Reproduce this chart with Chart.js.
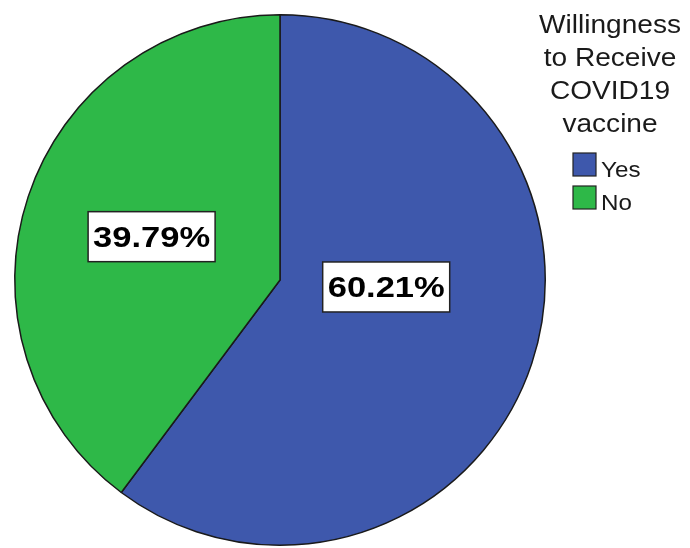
<!DOCTYPE html>
<html><head><meta charset="utf-8">
<script src="https://cdn.jsdelivr.net/npm/chart.js@4/dist/chart.umd.min.js"></script>
<style>html,body{margin:0;padding:0;background:#fff;overflow:hidden;}</style>
</head><body>
<canvas id="c" width="690" height="548" style="display:block;width:690px;height:548px"></canvas>
<script>
// ---- data ----
const categories = ['Yes', 'No'];
const percentages = [60.21, 39.79];
const legendTitleLines = ['Willingness', 'to Receive', 'COVID19', 'vaccine'];
const sliceColors = ['#3e58ac', '#2eb848'];

const FONT = '"Liberation Sans", Arial, sans-serif';

function scaledText(ctx, text, x, y, sx, align) {
  ctx.save();
  ctx.translate(x, y);
  ctx.scale(sx, 1);
  ctx.textAlign = align;
  ctx.textBaseline = 'alphabetic';
  ctx.fillText(text, 0, 0);
  ctx.restore();
}

const labelPlugin = {
  id: 'pctLabels',
  afterDatasetsDraw(chart, args, opts) {
    const ctx = chart.ctx;
    const meta = chart.getDatasetMeta(0);
    const vals = chart.data.datasets[0].data;
    meta.data.forEach((arc, i) => {
      const p = arc.getProps(['x', 'y', 'startAngle', 'endAngle', 'outerRadius'], true);
      const half = (p.endAngle - p.startAngle) / 2;
      const mid = p.startAngle + half;
      const d = 2 * p.outerRadius * Math.sin(half) / (3 * half);
      const nudge = opts.nudge[i] || [0, 0];
      const cx = p.x + Math.cos(mid) * d + nudge[0];
      const cy = p.y + Math.sin(mid) * d + nudge[1];
      const text = vals[i].toFixed(2) + '%';
      ctx.save();
      ctx.font = 'bold 30px ' + FONT;
      const sx = 1.15;
      const tw = ctx.measureText(text).width * sx;
      const bw = tw + 10, bh = 50;
      ctx.fillStyle = '#ffffff';
      ctx.fillRect(cx - bw / 2, cy - bh / 2, bw, bh);
      ctx.lineWidth = 1.5;
      ctx.strokeStyle = '#222';
      ctx.strokeRect(cx - bw / 2, cy - bh / 2, bw, bh);
      ctx.fillStyle = '#000';
      scaledText(ctx, text, cx, cy + 10, sx, 'center');
      ctx.restore();
    });
  }
};

const legendPlugin = {
  id: 'customLegend',
  afterDraw(chart) {
    const ctx = chart.ctx;
    ctx.save();
    ctx.fillStyle = '#1a1a1a';
    ctx.font = '26px ' + FONT;
    legendTitleLines.forEach((line, i) => {
      scaledText(ctx, line, 610, 33 + i * 33, 1.08, 'center');
    });
    const ds = chart.data.datasets[0];
    chart.data.labels.forEach((lab, i) => {
      const y = 153 + i * 33;
      ctx.fillStyle = ds.backgroundColor[i];
      ctx.fillRect(573, y, 23, 23);
      ctx.lineWidth = 1.2;
      ctx.strokeStyle = '#222';
      ctx.strokeRect(573, y, 23, 23);
      ctx.fillStyle = '#1a1a1a';
      ctx.font = '22px ' + FONT;
      scaledText(ctx, lab, 601, y + 24, 1.1, 'left');
    });
    ctx.restore();
  }
};

new Chart(document.getElementById('c'), {
  type: 'pie',
  data: {
    labels: categories,
    datasets: [{
      data: percentages,
      backgroundColor: sliceColors,
      borderColor: '#1a1a1a',
      borderWidth: 1.5
    }]
  },
  options: {
    responsive: false,
    animation: false,
    devicePixelRatio: 1,
    layout: { padding: { left: 14, top: 14, right: 144, bottom: 2 } },
    plugins: {
      legend: { display: false },
      tooltip: { enabled: false },
      pctLabels: { nudge: [[22, -21], [-1, -1]] }
    }
  },
  plugins: [labelPlugin, legendPlugin]
});
</script>
</body></html>
